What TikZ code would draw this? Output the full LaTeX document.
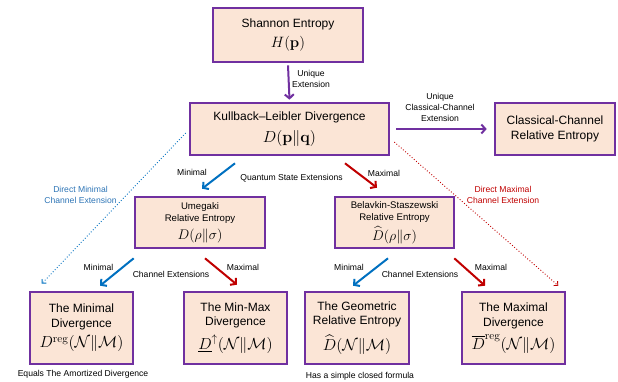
\RequirePackage{fix-cm}
\documentclass[tikz,border=0pt]{standalone}
\usepackage{amsmath, amssymb}
\usepackage[no-math]{fontspec}
\setmainfont{Liberation Sans}
\usepackage{xcolor}
\usepackage{tikz}
\usetikzlibrary{arrows.meta}

\definecolor{boxpurple}{RGB}{112,48,160}
\definecolor{boxfill}{RGB}{251,229,214}
\definecolor{minblue}{RGB}{0,112,192}
\definecolor{maxred}{RGB}{192,0,0}
\definecolor{textblue}{RGB}{46,117,182}

\begin{document}
\begin{tikzpicture}[x=1pt, y=-1pt,
  box/.style={draw=boxpurple, fill=boxfill, line width=2.6pt, inner sep=0pt, align=center},
  bigtext/.style={font=\fontsize{12}{14.5}\selectfont},
  midtext/.style={font=\fontsize{9.6}{12}\selectfont},
  lbl/.style={font=\fontsize{8.6}{11}\selectfont, align=center, inner sep=0pt},
  purplearrow/.style={draw=boxpurple, line width=2pt, -{Straight Barb[length=4pt,width=9pt]}},
  minarrow/.style={draw=minblue, line width=2pt, -{Straight Barb[length=4pt,width=9pt]}},
  maxarrow/.style={draw=maxred, line width=2pt, -{Straight Barb[length=4pt,width=9pt]}},
  mindots/.style={draw=minblue, line width=0.9pt, dotted, -{Straight Barb[length=3pt,width=6pt]}},
  maxdots/.style={draw=maxred, line width=0.9pt, dotted, -{Straight Barb[length=3pt,width=6pt]}}
]
\useasboundingbox (0,0) rectangle (618,381);

\node[box, bigtext, minimum width=150pt, minimum height=54pt] (shannon) at (288,35)
  {Shannon Entropy\\[6pt] {\fontsize{15}{18}\selectfont $H(\mathbf{p})$}};
\node[box, bigtext, minimum width=199pt, minimum height=52pt] (kl) at (289.5,129)
  {Kullback--Leibler Divergence\\[8pt] {\fontsize{16}{19}\selectfont $D(\mathbf{p}\|\mathbf{q})$}};
\node[box, bigtext, minimum width=120pt, minimum height=52pt] (classical) at (555,129)
  {Classical-Channel\\Relative Entropy};
\node[box, midtext, minimum width=130pt, minimum height=51pt] (umegaki) at (200,222.5)
  {Umegaki\\Relative Entropy\\[4.5pt] {\fontsize{14}{17}\selectfont $D(\rho\|\sigma)$}};
\node[box, midtext, minimum width=119pt, minimum height=51pt] (belavkin) at (394.5,222.5)
  {Belavkin-Staszewski\\Relative Entropy\\[3.5pt] {\fontsize{14}{17}\selectfont $\widehat{D}(\rho\|\sigma)$}};
\node[box, bigtext, minimum width=103pt, minimum height=72pt] (minimal) at (81.5,328)
  {The Minimal\\Divergence\\[6pt] {\fontsize{16}{19}\selectfont $D^{\mathrm{reg}}(\mathcal{N}\|\mathcal{M})$}};
\node[box, bigtext, minimum width=103pt, minimum height=72pt] (minmax) at (235.5,328)
  {The Min-Max\\Divergence\\[6pt] {\fontsize{16}{19}\selectfont $\underline{D}^{\uparrow}(\mathcal{N}\|\mathcal{M})$}};
\node[box, bigtext, minimum width=104pt, minimum height=72pt] (geometric) at (357,328)
  {The Geometric\\Relative Entropy\\[7pt] {\fontsize{16}{19}\selectfont $\widehat{D}(\mathcal{N}\|\mathcal{M})$}};
\node[box, bigtext, minimum width=103pt, minimum height=72pt] (maximal) at (513.5,328)
  {The Maximal\\Divergence\\[5pt] {\fontsize{16}{19}\selectfont $\overline{D}^{\mathrm{reg}}(\mathcal{N}\|\mathcal{M})$}};

\draw[purplearrow] ([yshift=-2pt]shannon.south) -- ([yshift=2pt]kl.north);
\node[lbl] (unique) at (311,79) {Unique\\Extension};
\draw[purplearrow] ([xshift=6pt]kl.east) -- ([xshift=-7pt]classical.west);
\node[lbl] (uniqueclassical) at (440,107) {Unique\\Classical-Channel\\Extension};

\draw[minarrow] ([xshift=-54.5pt,yshift=-7pt]kl.south) -- ([xshift=2pt,yshift=7pt]umegaki.north);
\draw[maxarrow] ([xshift=55.5pt,yshift=-7pt]kl.south) -- ([xshift=-17.5pt,yshift=8pt]belavkin.north);
\node[lbl] (klmin) at (192,172) {Minimal};
\node[lbl] (klmax) at (384,173) {Maximal};
\node[lbl] (quantum) at (291.5,178) {Quantum State Extensions};

\draw[mindots] ([xshift=-3pt,yshift=-4pt]kl.west) -- ([xshift=13pt,yshift=7pt]minimal.north west);
\draw[maxdots] ([xshift=4pt,yshift=-13pt]kl.east) -- ([xshift=-8pt,yshift=5pt]maximal.north east);
\node[lbl, text=textblue] (directmin) at (80.5,195) {Direct Minimal\\Channel Extension};
\node[lbl, text=maxred] (directmax) at (503,195) {Direct Maximal\\Channel Extension};

\draw[minarrow] ([yshift=-9pt]umegaki.south west) -- ([xshift=18.5pt,yshift=5pt]minimal.north);
\draw[maxarrow] ([xshift=5pt,yshift=-9pt]umegaki.south) -- ([xshift=1.5pt,yshift=6pt]minmax.north);
\node[lbl] (umemin) at (98.5,267) {Minimal};
\node[lbl] (umemax) at (243,267) {Maximal};
\node[lbl] (umechannel) at (171,274) {Channel Extensions};

\draw[minarrow] ([xshift=-6.5pt,yshift=-9pt]belavkin.south) -- ([xshift=-4pt,yshift=5pt]geometric.north);
\draw[maxarrow] ([xshift=-1pt,yshift=-9pt]belavkin.south east) -- ([xshift=-28.5pt,yshift=5pt]maximal.north);
\node[lbl] (belmin) at (349,267) {Minimal};
\node[lbl] (belmax) at (491,267) {Maximal};
\node[lbl] (belchannel) at (420,274) {Channel Extensions};

\node[lbl] (amortized) at (83,374) {Equals The Amortized Divergence};
\node[lbl] (closed) at (360,376) {Has a simple closed formula};
\end{tikzpicture}
\end{document}
